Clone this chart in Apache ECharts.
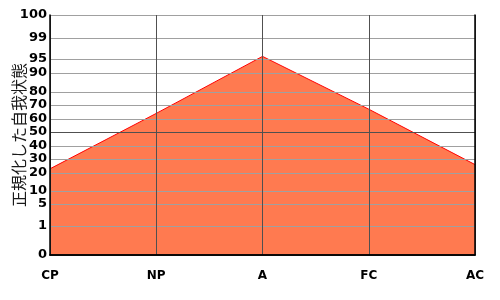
<!DOCTYPE html>
<html>
<head>
<meta charset="utf-8">
<script src="https://cdn.jsdelivr.net/npm/echarts@6/dist/echarts.min.js"></script>
<style>html,body{margin:0;padding:0;background:#fff}#c{width:500px;height:300px}</style>
</head>
<body>
<div id="c"></div>
<script>
// categories and values
const categories = ['CP', 'NP', 'A', 'FC', 'AC'];
const values = [23, 64, 95.5, 67, 26];
// tick labels of the normalized scale
const tickValues = [0, 1, 5, 10, 20, 30, 40, 50, 60, 70, 80, 90, 95, 99, 100];
// scale definition: position of each tick value on the axis (0..240 units)
const scaleStops = [0, 29, 51, 64, 82, 96, 109, 123, 136, 150, 163, 182, 196, 217, 240];
const yAxisName = '正規化した自我状態';

function toScale(v) {
  for (let i = 0; i < tickValues.length - 1; i++) {
    const a = tickValues[i], b = tickValues[i + 1];
    if (v >= a && v <= b) {
      return scaleStops[i] + (v - a) / (b - a) * (scaleStops[i + 1] - scaleStops[i]);
    }
  }
  return v < 0 ? 0 : scaleStops[scaleStops.length - 1];
}
function labelFor(pos) {
  for (let i = 0; i < scaleStops.length; i++) {
    if (Math.abs(scaleStops[i] - pos) < 1e-6) return String(tickValues[i]);
  }
  return '';
}

const splitColors = tickValues.map(v => v === 50 ? '#505050' : '#a0a0a0');
const font = 'DejaVu Sans';

const chart = echarts.init(document.getElementById('c'), null, {renderer: 'canvas'});
chart.setOption({
  animation: false,
  backgroundColor: '#ffffff',
  grid: {left: 50, right: 25, top: 15, bottom: 45, containLabel: false, outerBoundsMode: 'none'},
  xAxis: [{
    type: 'category',
    data: categories,
    boundaryGap: false,
    position: 'bottom',
    z: 5,
    axisLine: {show: true, lineStyle: {color: '#000', width: 1.5}},
    axisTick: {show: false},
    axisLabel: {color: '#000', fontFamily: font, fontWeight: 'bold', fontSize: 12, margin: 15},
    splitLine: {show: true, lineStyle: {color: '#505050', width: 1}}
  }, {
    type: 'category',
    data: categories,
    boundaryGap: false,
    position: 'top',
    z: 5,
    axisLine: {show: true, lineStyle: {color: '#000', width: 1.5}},
    axisTick: {show: false},
    axisLabel: {show: false},
    splitLine: {show: false}
  }],
  yAxis: [{
    type: 'value',
    min: 0,
    max: scaleStops[scaleStops.length - 1],
    position: 'left',
    z: 5,
    name: yAxisName,
    nameLocation: 'middle',
    nameGap: 23,
    nameMoveOverlap: false,
    nameTextStyle: {fontFamily: 'Noto Sans CJK JP', fontSize: 16, color: '#1a1a1a'},
    axisLine: {show: true, lineStyle: {color: '#000', width: 1.5}},
    axisTick: {show: false, customValues: scaleStops},
    axisLabel: {
      customValues: scaleStops,
      formatter: v => labelFor(v),
      color: '#000', fontFamily: font, fontWeight: 'bold', fontSize: 13, margin: 3
    },
    splitLine: {show: true, lineStyle: {color: splitColors, width: 1}}
  }, {
    type: 'value',
    min: 0,
    max: scaleStops[scaleStops.length - 1],
    position: 'right',
    z: 5,
    axisLine: {show: true, lineStyle: {color: '#000', width: 1.5}},
    axisTick: {show: false},
    axisLabel: {show: false},
    splitLine: {show: false}
  }],
  series: [{
    type: 'line',
    data: values.map(toScale),
    symbol: 'none',
    lineStyle: {color: '#ff0000', width: 1},
    areaStyle: {color: '#ff7a50', opacity: 1},
    z: 2
  }]
});
</script>
</body>
</html>
